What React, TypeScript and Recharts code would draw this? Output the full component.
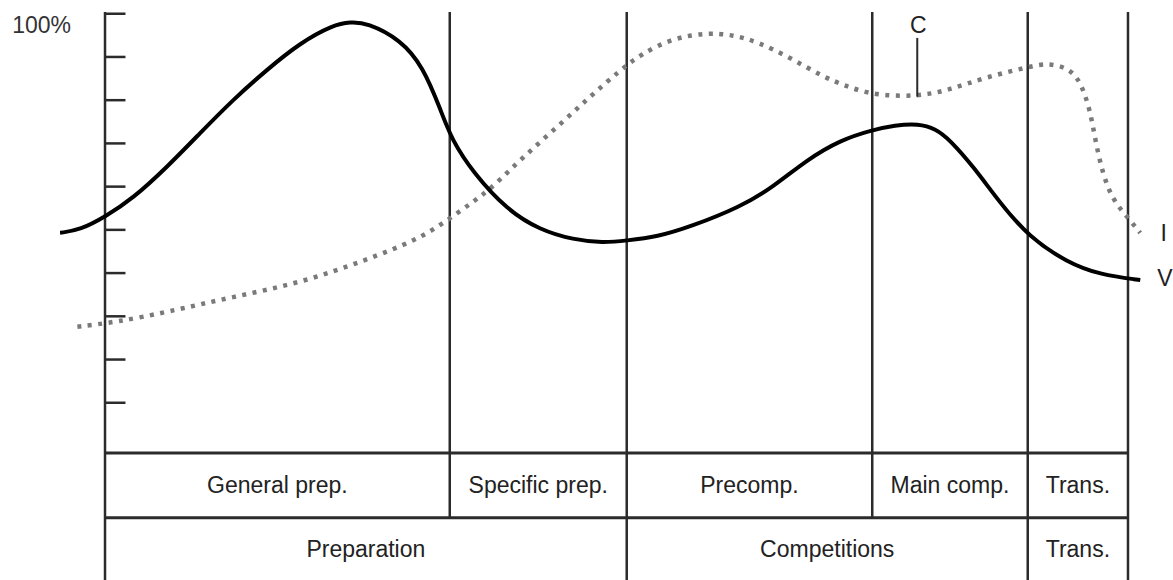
import React from "react";
import {
  LineChart,
  Line,
  XAxis,
  YAxis,
  ReferenceLine,
  ReferenceArea,
  ReferenceDot,
} from "recharts";

// x = position in the annual plan (0 = start of general prep, 100 = end of transition)
const volumeT = [-4.4, -2.4, 0, 2.7, 6.1, 9.3, 12.5, 15.8, 19.1, 22.3, 24.0, 25.6, 28.9, 31.1, 32.8, 33.9, 36.0, 39.3, 42.5, 45.8, 48.7, 50.9, 54.0, 57.2, 62.1, 65.3, 68.6, 71.9, 75.0, 77.2, 79.5, 81.2, 82.6, 84.9, 87.5, 90.3, 94.1, 97.3, 101.2];
const volumeV = [49.3, 50.0, 53.0, 57.2, 64.6, 72.4, 80.1, 87.0, 93.3, 97.4, 98.1, 97.9, 94.0, 87.7, 77.8, 70.8, 63.2, 54.6, 50.0, 47.7, 47.0, 47.5, 48.4, 50.7, 55.3, 59.9, 66.2, 70.8, 73.1, 74.2, 74.6, 73.4, 70.8, 64.6, 56.2, 48.4, 42.4, 39.6, 38.4];

const intensityT = [-2.7, 1.2, 6.1, 12.5, 19.1, 25.6, 30.5, 33.1, 36.0, 37.9, 40.9, 44.2, 47.4, 50.4, 52.3, 55.5, 58.9, 61.4, 63.8, 67.0, 70.2, 72.6, 75.1, 79.4, 82.6, 85.9, 90.3, 92.1, 94.1, 95.3, 96.3, 96.8, 97.5, 98.5, 100.0, 101.2];
const intensityV = [27.6, 28.7, 31.0, 34.5, 37.7, 43.1, 47.7, 51.6, 56.5, 59.9, 66.9, 73.8, 80.8, 87.0, 90.5, 94.4, 95.6, 95.1, 93.5, 89.8, 85.4, 83.1, 81.2, 80.8, 82.4, 85.2, 87.7, 88.6, 87.5, 84.7, 77.8, 70.8, 63.2, 56.9, 52.8, 49.3];

const yTicks = [100, 90, 80, 70, 60, 50, 40, 30, 20, 10];
const yLabelTicks = [100];

// sub-phases (first table row)
const phaseLabels = ["General prep.", "Specific prep.", "Precomp.", "Main comp.", "Trans."];
const phaseBounds = [0, 33.7, 51, 75, 90.2, 100];
// periods (second table row)
const periodLabels = ["Preparation", "Competitions", "Trans."];
const periodBounds = [0, 51, 90.2, 100];

// annotation "C" on the intensity curve
const cT = 79.4;
const cTop = 94.4;
const cBottom = 80.8;

const volumeData = volumeT.map((t, i) => ({ t, v: volumeV[i] }));
const intensityData = intensityT.map((t, i) => ({ t, v: intensityV[i] }));

const Y_TOP = 100.4;
const Y_BOTTOM = -31;
const ROW1_TOP = -1.6;
const ROW2_TOP = -16.6;

const FONT = "'Liberation Sans', Arial, Helvetica, sans-serif";
const INK = "#222";
const GRID = "#2b2b2b";

const PercentTick = ({ x, y, payload }: any) => (
  <text x={x + 11} y={y + 13} textAnchor="end" dominantBaseline="middle" fontSize={23} fill="#333" fontFamily={FONT}>
    {payload.value}%
  </text>
);

const cellLabel = (value: string) => ({
  value,
  position: "center" as const,
  fontSize: 23,
  fill: INK,
  fontFamily: FONT,
});

const App = () => {
  return (
    <div style={{ width: 1173, height: 580 }}>
      <style>{"body{margin:0}"}</style>
      <LineChart width={1173} height={580} margin={{ top: 12, right: 0, bottom: 0, left: 0 }}>
        <XAxis type="number" dataKey="t" domain={[-4.4, 104.4]} allowDataOverflow hide />
        <YAxis
          type="number"
          dataKey="v"
          domain={[Y_BOTTOM, Y_TOP]}
          allowDataOverflow
          width={60}
          ticks={yLabelTicks}
          tick={<PercentTick />}
          tickSize={0}
          tickMargin={0}
          axisLine={false}
          tickLine={false}
        />

        {/* vertical axis line and its ticks */}
        <ReferenceLine segment={[{ x: 0, y: Y_TOP }, { x: 0, y: Y_BOTTOM }]} stroke={GRID} strokeWidth={2.5} />
        {yTicks.map((v) => (
          <ReferenceLine key={"tk" + v} segment={[{ x: 0, y: v }, { x: 2, y: v }]} stroke={GRID} strokeWidth={2.5} />
        ))}

        {/* phase boundaries */}
        {phaseBounds.slice(1).map((b) => (
          <ReferenceLine
            key={"pb" + b}
            segment={[{ x: b, y: Y_TOP }, { x: b, y: periodBounds.includes(b) ? Y_BOTTOM : ROW2_TOP }]}
            stroke={GRID}
            strokeWidth={2.5}
          />
        ))}

        {/* table rows */}
        <ReferenceLine segment={[{ x: 0, y: ROW1_TOP }, { x: 100, y: ROW1_TOP }]} stroke={GRID} strokeWidth={3} />
        <ReferenceLine segment={[{ x: 0, y: ROW2_TOP }, { x: 100, y: ROW2_TOP }]} stroke={GRID} strokeWidth={3} />
        {phaseLabels.map((name, i) => (
          <ReferenceArea
            key={"ph" + i}
            x1={phaseBounds[i]}
            x2={phaseBounds[i + 1]}
            y1={ROW2_TOP}
            y2={ROW1_TOP}
            fill="none"
            fillOpacity={0}
            label={cellLabel(name)}
          />
        ))}
        {periodLabels.map((name, i) => (
          <ReferenceArea
            key={"pr" + i}
            x1={periodBounds[i]}
            x2={periodBounds[i + 1]}
            y1={Y_BOTTOM}
            y2={ROW2_TOP}
            fill="none"
            fillOpacity={0}
            label={cellLabel(name)}
          />
        ))}

        <Line
          data={intensityData}
          dataKey="v"
          type="basis"
          stroke="#7a7a7a"
          strokeWidth={4.5}
          strokeDasharray="4 6.5"
          dot={false}
          activeDot={false}
          isAnimationActive={false}
        />
        <Line
          data={volumeData}
          dataKey="v"
          type="basis"
          stroke="#000"
          strokeWidth={4}
          dot={false}
          activeDot={false}
          isAnimationActive={false}
        />

        {/* curve annotations */}
        <ReferenceLine segment={[{ x: cT, y: cTop }, { x: cT, y: cBottom }]} stroke={GRID} strokeWidth={2} />
        <ReferenceDot x={79.5} y={97.4} r={0} fillOpacity={0} stroke="none" label={cellLabel("C")} />
        <ReferenceDot x={103.5} y={49.3} r={0} fillOpacity={0} stroke="none" ifOverflow="visible" label={cellLabel("I")} />
        <ReferenceDot x={103.6} y={38.9} r={0} fillOpacity={0} stroke="none" ifOverflow="visible" label={cellLabel("V")} />
      </LineChart>
    </div>
  );
};

export default App;
